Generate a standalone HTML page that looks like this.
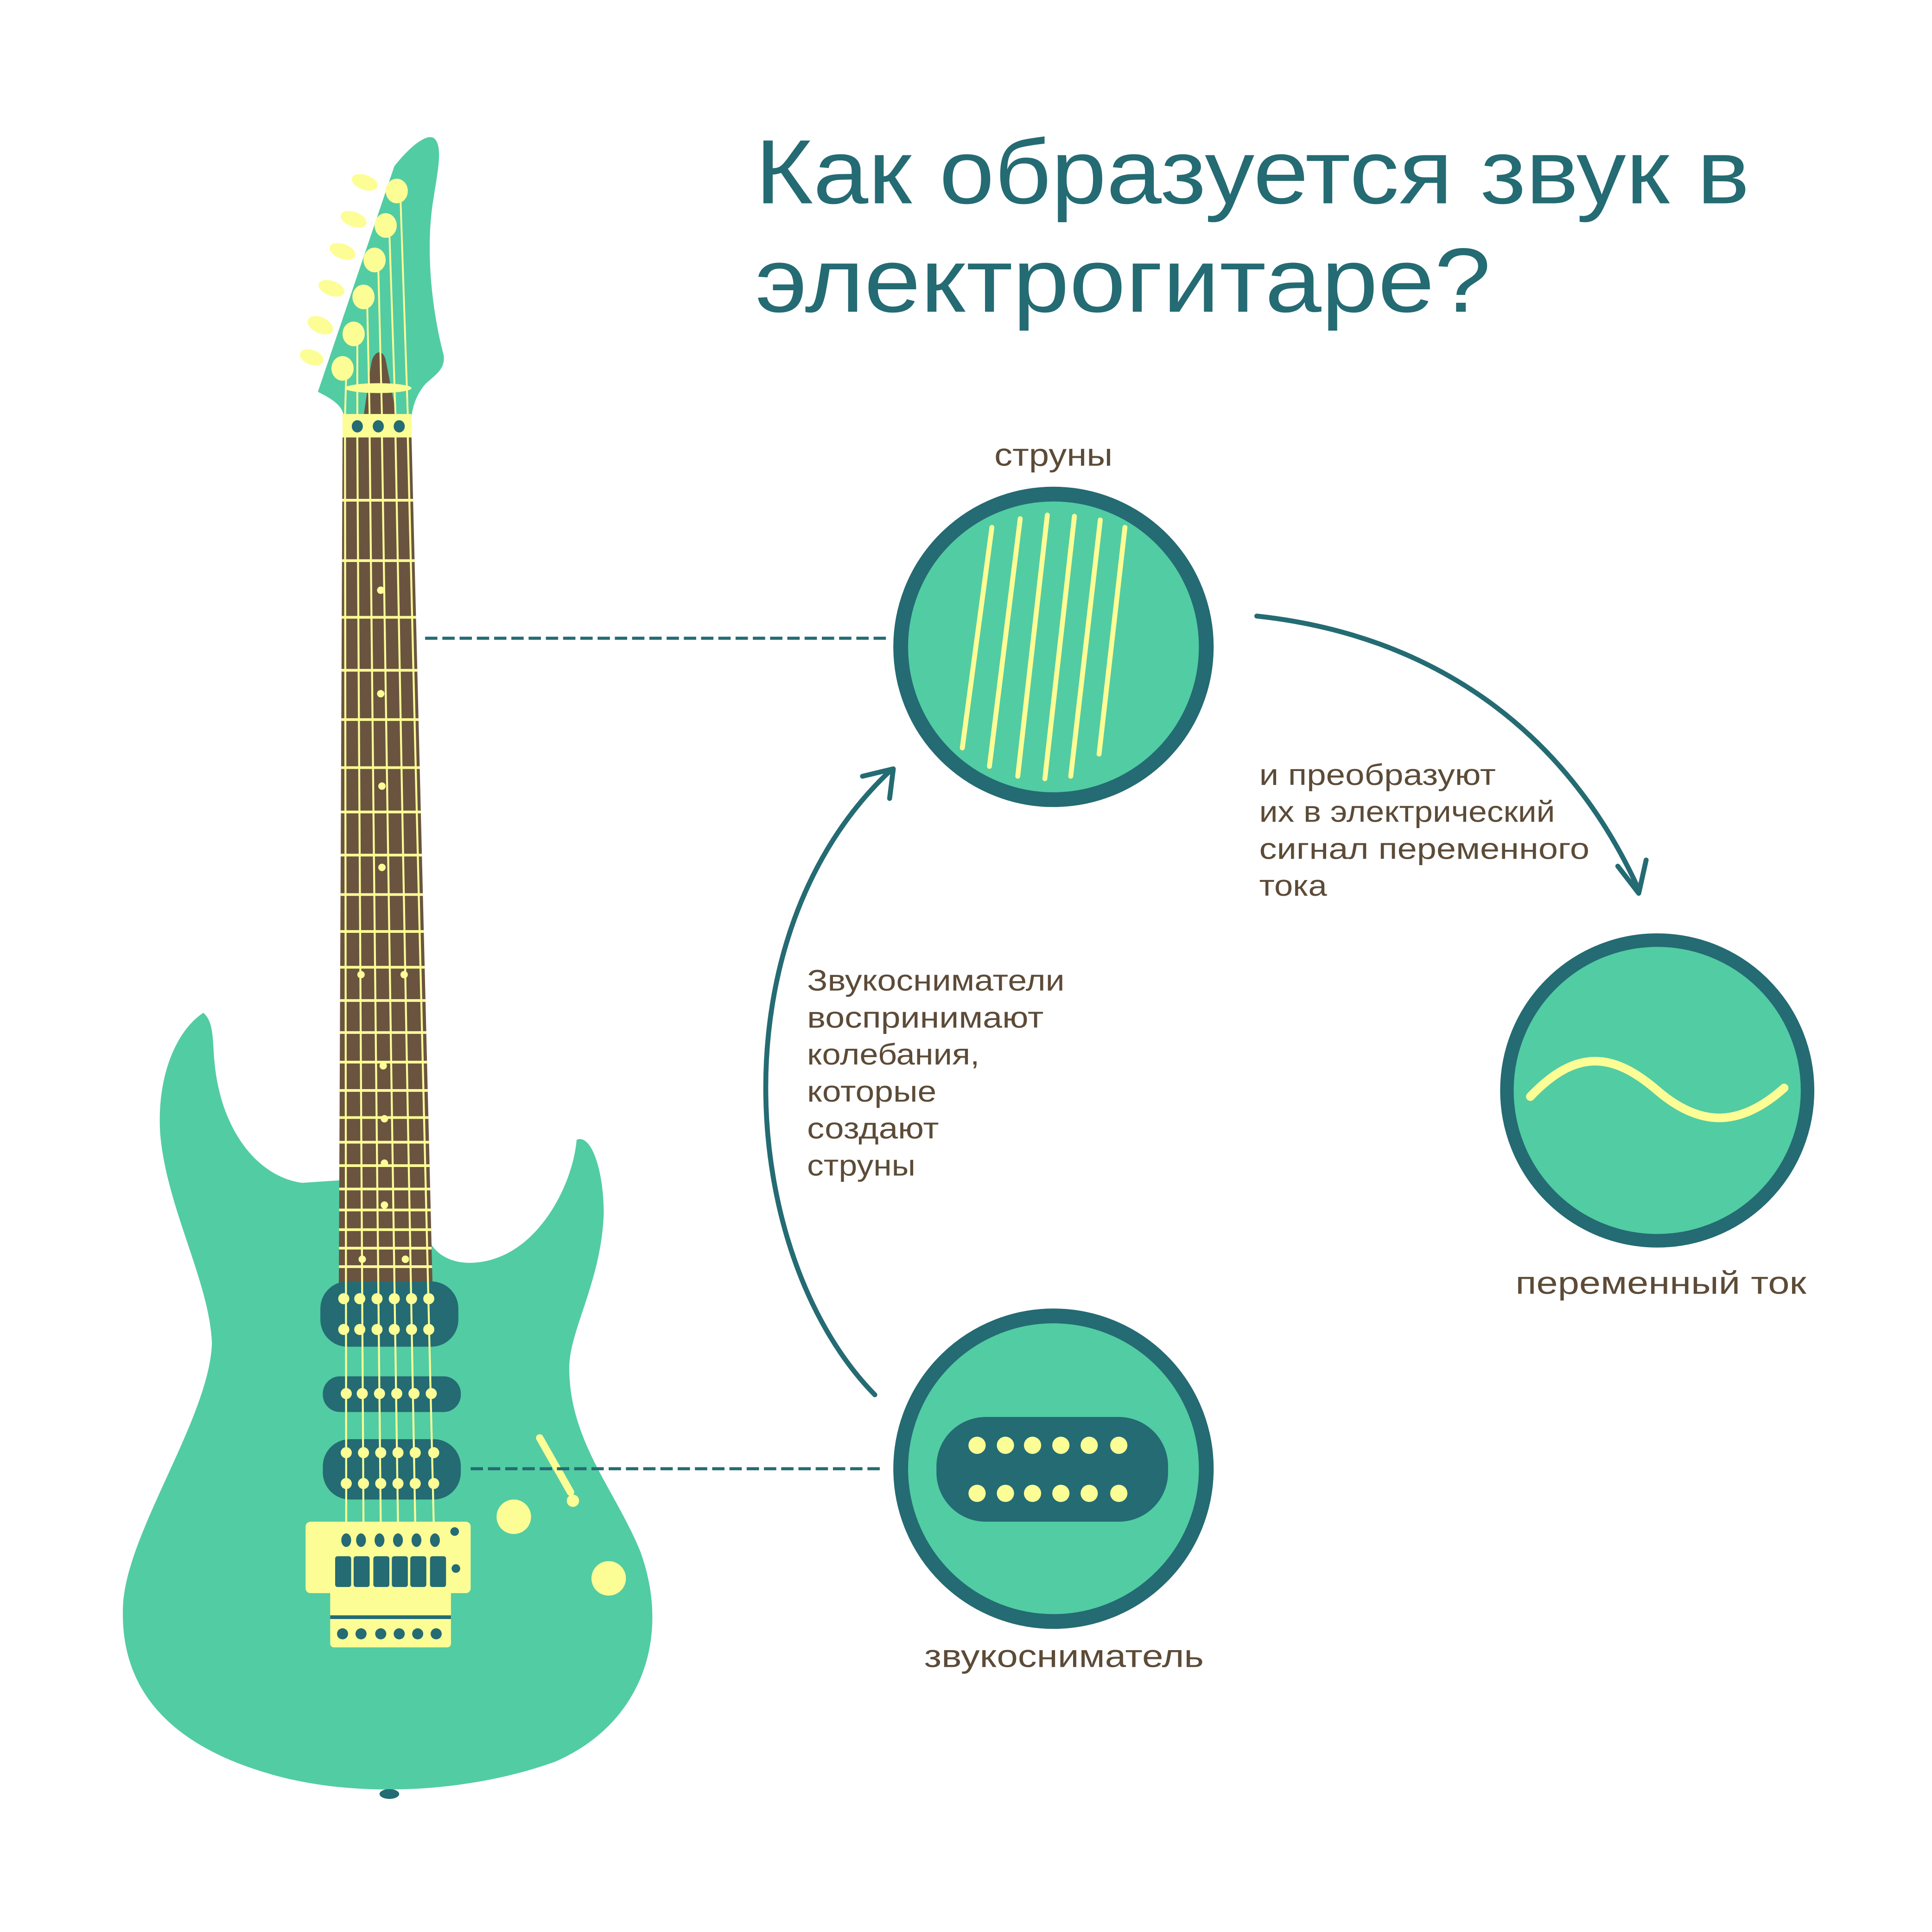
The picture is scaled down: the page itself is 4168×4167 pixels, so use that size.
<!DOCTYPE html>
<html><head><meta charset="utf-8"><style>
html,body{margin:0;padding:0;background:#fff;}
svg{display:block;}
text{font-family:"Liberation Sans","DejaVu Sans",sans-serif;}
</style></head><body>
<svg xmlns="http://www.w3.org/2000/svg" width="4168" height="4167" viewBox="0 0 1568 1568" preserveAspectRatio="none">
<defs>
<clipPath id="neck"><polygon points="278,355 334,355 351,1041 275,1041"/></clipPath>
</defs>
<rect width="1568" height="1568" fill="#fff"/>

<!-- Title -->
<text x="613" y="165" font-size="74" fill="#246b73" textLength="807" lengthAdjust="spacingAndGlyphs">Как образуется звук в</text>
<text x="613" y="253" font-size="74" fill="#246b73" textLength="597" lengthAdjust="spacingAndGlyphs">электрогитаре?</text>

<!-- Body -->
<path fill="#52cca3" d="M165,822 C175,830 172,850 175,870 C182,920 210,955 245,960 L275,958 L350,1010 C360,1025 380,1028 400,1022 C440,1010 465,960 468,925 C480,920 490,950 490,985 C488,1040 462,1080 462,1110 C462,1170 500,1210 520,1260 C545,1330 520,1400 450,1430 C380,1455 290,1460 220,1440 C150,1420 95,1380 100,1300 C105,1240 170,1150 172,1090 C170,1040 135,980 130,920 C127,870 145,835 165,822 Z"/>
<ellipse cx="316" cy="1456" rx="8" ry="4" fill="#246b73"/>

<!-- Headstock -->
<g fill="#fdfd96">
<ellipse cx="296" cy="148" rx="11" ry="6" transform="rotate(20 296 148)"/>
<ellipse cx="287" cy="178" rx="11" ry="6" transform="rotate(20 287 178)"/>
<ellipse cx="278" cy="204" rx="11" ry="6" transform="rotate(20 278 204)"/>
<ellipse cx="269" cy="234" rx="11" ry="6" transform="rotate(20 269 234)"/>
<ellipse cx="260" cy="264" rx="11" ry="6.5" transform="rotate(25 260 264)"/>
<ellipse cx="253" cy="290" rx="10" ry="6" transform="rotate(20 253 290)"/>
</g>
<path fill="#52cca3" d="M258,318 L320,135 C330,122 345,108 352,112 C360,118 355,140 352,160 C345,200 350,250 360,288 C362,300 352,305 345,312 C338,320 335,330 334,338 L279,338 C278,330 272,325 258,318 Z"/>
<path fill="#6a5440" d="M295,338 C298,320 300,300 302,292 C305,284 311,284 313,292 L322,338 Z"/>
<g fill="#fdfd96">
<ellipse cx="322" cy="155" rx="9" ry="10"/>
<ellipse cx="313" cy="183" rx="9" ry="10"/>
<ellipse cx="304" cy="211" rx="9" ry="10"/>
<ellipse cx="295" cy="241" rx="9" ry="10"/>
<ellipse cx="287" cy="271" rx="9" ry="10"/>
<ellipse cx="278" cy="299" rx="9" ry="10"/>
</g>
<g stroke="#fdfd96" stroke-width="1.5">
<line x1="325" y1="160" x2="331" y2="338"/>
<line x1="316" y1="188" x2="321" y2="338"/>
<line x1="307" y1="216" x2="310" y2="338"/>
<line x1="298" y1="246" x2="300" y2="338"/>
<line x1="290" y1="276" x2="290" y2="338"/>
<line x1="281" y1="304" x2="280" y2="338"/>
</g>
<ellipse cx="307" cy="315" rx="27" ry="4" fill="#fdfd96"/>

<!-- Neck -->
<polygon points="278,355 334,355 351,1041 275,1041" fill="#6a5440"/>
<rect x="278" y="336" width="56" height="19" fill="#fdfd96"/>
<g fill="#246b73"><ellipse cx="290" cy="346" rx="4.5" ry="5"/><ellipse cx="307" cy="346" rx="4.5" ry="5"/><ellipse cx="324" cy="346" rx="4.5" ry="5"/></g>
<g clip-path="url(#neck)" stroke="#fdfd96" stroke-width="2.2">
<line x1="270" x2="360" y1="406" y2="406"/><line x1="270" x2="360" y1="455" y2="455"/>
<line x1="270" x2="360" y1="501" y2="501"/><line x1="270" x2="360" y1="544" y2="544"/>
<line x1="270" x2="360" y1="584" y2="584"/><line x1="270" x2="360" y1="623" y2="623"/>
<line x1="270" x2="360" y1="659" y2="659"/><line x1="270" x2="360" y1="694" y2="694"/>
<line x1="270" x2="360" y1="726" y2="726"/><line x1="270" x2="360" y1="756" y2="756"/>
<line x1="270" x2="360" y1="785" y2="785"/><line x1="270" x2="360" y1="812" y2="812"/>
<line x1="270" x2="360" y1="838" y2="838"/><line x1="270" x2="360" y1="862" y2="862"/>
<line x1="270" x2="360" y1="885" y2="885"/><line x1="270" x2="360" y1="907" y2="907"/>
<line x1="270" x2="360" y1="927" y2="927"/><line x1="270" x2="360" y1="946" y2="946"/>
<line x1="270" x2="360" y1="965" y2="965"/><line x1="270" x2="360" y1="982" y2="982"/>
<line x1="270" x2="360" y1="998" y2="998"/><line x1="270" x2="360" y1="1013" y2="1013"/>
<line x1="270" x2="360" y1="1028" y2="1028"/>
</g>
<g fill="#fdfd96">
<circle cx="309" cy="479" r="3"/><circle cx="309" cy="563" r="3"/><circle cx="310" cy="638" r="3"/>
<circle cx="310" cy="704" r="3"/><circle cx="293" cy="791" r="3"/><circle cx="328" cy="791" r="3"/>
<circle cx="311" cy="865" r="3"/><circle cx="312" cy="908" r="3"/><circle cx="312" cy="944" r="3"/>
<circle cx="312" cy="978" r="3"/><circle cx="294" cy="1022" r="3"/><circle cx="329" cy="1022" r="3"/>
</g>

<!-- Pickups -->
<g fill="#246b73">
<rect x="260" y="1040" width="112" height="53" rx="22"/>
<rect x="262" y="1117" width="112" height="29" rx="14"/>
<rect x="262" y="1168" width="112" height="49" rx="22"/>
</g>
<!-- Strings on body -->
<g stroke="#fdfd96" stroke-width="1.6">
<line x1="280" y1="355" x2="281" y2="1236"/>
<line x1="290" y1="355" x2="295" y2="1236"/>
<line x1="300" y1="355" x2="309" y2="1236"/>
<line x1="310" y1="355" x2="323" y2="1236"/>
<line x1="321" y1="355" x2="337" y2="1236"/>
<line x1="331" y1="355" x2="352" y2="1236"/>
</g>
<g fill="#fdfd96">
<circle cx="279" cy="1054" r="4.5"/><circle cx="292" cy="1054" r="4.5"/><circle cx="306" cy="1054" r="4.5"/><circle cx="320" cy="1054" r="4.5"/><circle cx="334" cy="1054" r="4.5"/><circle cx="348" cy="1054" r="4.5"/>
<circle cx="279" cy="1079" r="4.5"/><circle cx="292" cy="1079" r="4.5"/><circle cx="306" cy="1079" r="4.5"/><circle cx="320" cy="1079" r="4.5"/><circle cx="334" cy="1079" r="4.5"/><circle cx="348" cy="1079" r="4.5"/>
<circle cx="281" cy="1131" r="4.5"/><circle cx="294" cy="1131" r="4.5"/><circle cx="308" cy="1131" r="4.5"/><circle cx="322" cy="1131" r="4.5"/><circle cx="336" cy="1131" r="4.5"/><circle cx="350" cy="1131" r="4.5"/>
<circle cx="281" cy="1179" r="4.5"/><circle cx="295" cy="1179" r="4.5"/><circle cx="309" cy="1179" r="4.5"/><circle cx="323" cy="1179" r="4.5"/><circle cx="337" cy="1179" r="4.5"/><circle cx="352" cy="1179" r="4.5"/>
<circle cx="281" cy="1204" r="4.5"/><circle cx="295" cy="1204" r="4.5"/><circle cx="309" cy="1204" r="4.5"/><circle cx="323" cy="1204" r="4.5"/><circle cx="337" cy="1204" r="4.5"/><circle cx="352" cy="1204" r="4.5"/>
</g>

<!-- Bridge -->
<rect x="248" y="1235" width="134" height="58" rx="4" fill="#fdfd96"/>
<rect x="268" y="1285" width="98" height="52" rx="3" fill="#fdfd96"/>
<rect x="268" y="1311" width="98" height="3" fill="#246b73"/>
<g fill="#246b73">
<ellipse cx="281" cy="1250" rx="4" ry="5.5"/><ellipse cx="293" cy="1250" rx="4" ry="5.5"/><ellipse cx="308" cy="1250" rx="4" ry="5.5"/><ellipse cx="323" cy="1250" rx="4" ry="5.5"/><ellipse cx="338" cy="1250" rx="4" ry="5.5"/><ellipse cx="353" cy="1250" rx="4" ry="5.5"/>
<rect x="272" y="1263" width="13" height="25" rx="2"/><rect x="287" y="1263" width="13" height="25" rx="2"/><rect x="303" y="1263" width="13" height="25" rx="2"/><rect x="318" y="1263" width="13" height="25" rx="2"/><rect x="333" y="1263" width="13" height="25" rx="2"/><rect x="349" y="1263" width="13" height="25" rx="2"/>
<circle cx="369" cy="1243" r="3.5"/><circle cx="370" cy="1273" r="3.5"/>
<circle cx="278" cy="1326" r="4.5"/><circle cx="293" cy="1326" r="4.5"/><circle cx="309" cy="1326" r="4.5"/><circle cx="324" cy="1326" r="4.5"/><circle cx="339" cy="1326" r="4.5"/><circle cx="354" cy="1326" r="4.5"/>
</g>
<circle cx="417" cy="1231" r="14" fill="#fdfd96"/>
<circle cx="494" cy="1281" r="14" fill="#fdfd96"/>
<line x1="438" y1="1167" x2="463" y2="1211" stroke="#fdfd96" stroke-width="6" stroke-linecap="round"/>
<circle cx="465" cy="1218" r="5" fill="#fdfd96"/>

<!-- Dashed connectors -->
<g stroke="#246b73" stroke-width="2.5" stroke-dasharray="10,4" fill="none">
<line x1="345" y1="518" x2="720" y2="518"/>
<line x1="382" y1="1192" x2="718" y2="1192"/>
</g>

<!-- Strings circle -->
<circle cx="855" cy="525" r="124" fill="#52cca3" stroke="#246b73" stroke-width="12"/>
<g stroke="#fdfd96" stroke-width="4" stroke-linecap="round">
<line x1="805" y1="428" x2="781" y2="607"/>
<line x1="828" y1="421" x2="803" y2="622"/>
<line x1="850" y1="418" x2="826" y2="630"/>
<line x1="872" y1="419" x2="848" y2="632"/>
<line x1="893" y1="422" x2="869" y2="630"/>
<line x1="913" y1="428" x2="892" y2="612"/>
</g>

<!-- AC circle -->
<circle cx="1345" cy="885" r="122" fill="#52cca3" stroke="#246b73" stroke-width="11"/>
<path d="M1242,890 C1280,850 1310,855 1345,885 C1380,915 1412,915 1448,883" fill="none" stroke="#fdfd96" stroke-width="7" stroke-linecap="round"/>

<!-- Pickup circle -->
<circle cx="855" cy="1192" r="124" fill="#52cca3" stroke="#246b73" stroke-width="12"/>
<rect x="760" y="1150" width="188" height="85" rx="40" fill="#246b73"/>
<g fill="#fdfd96">
<circle cx="793" cy="1173" r="7"/><circle cx="816" cy="1173" r="7"/><circle cx="838" cy="1173" r="7"/><circle cx="861" cy="1173" r="7"/><circle cx="884" cy="1173" r="7"/><circle cx="908" cy="1173" r="7"/>
<circle cx="793" cy="1212" r="7"/><circle cx="816" cy="1212" r="7"/><circle cx="838" cy="1212" r="7"/><circle cx="861" cy="1212" r="7"/><circle cx="884" cy="1212" r="7"/><circle cx="908" cy="1212" r="7"/>
</g>

<!-- Arrows -->
<g stroke="#246b73" stroke-width="4" fill="none" stroke-linecap="round" stroke-linejoin="round">
<path d="M710,1132 C600,1020 580,760 722,626"/>
<polyline points="700,630 725,624 722,648"/>
<path d="M1020,500 C1160,515 1270,590 1330,722"/>
<polyline points="1313,703 1330,725 1336,698"/>
</g>

<!-- Labels -->
<g fill="#5c4b37" font-size="26">
<text x="807" y="378" textLength="96" lengthAdjust="spacingAndGlyphs">струны</text>
<text x="750" y="1353" textLength="227" lengthAdjust="spacingAndGlyphs">звукосниматель</text>
<text x="1230" y="1050" textLength="236" lengthAdjust="spacingAndGlyphs">переменный ток</text>
</g>
<g fill="#5c4b37" font-size="24">
<text x="1022" y="637" textLength="192" lengthAdjust="spacingAndGlyphs">и преобразуют</text>
<text x="1022" y="667" textLength="240" lengthAdjust="spacingAndGlyphs">их в электрический</text>
<text x="1022" y="697" textLength="268" lengthAdjust="spacingAndGlyphs">сигнал переменного</text>
<text x="1022" y="727" textLength="55" lengthAdjust="spacingAndGlyphs">тока</text>
<text x="655" y="804" textLength="209" lengthAdjust="spacingAndGlyphs">Звукосниматели</text>
<text x="655" y="834" textLength="192" lengthAdjust="spacingAndGlyphs">воспринимают</text>
<text x="655" y="864" textLength="140" lengthAdjust="spacingAndGlyphs">колебания,</text>
<text x="655" y="894" textLength="105" lengthAdjust="spacingAndGlyphs">которые</text>
<text x="655" y="924" textLength="107" lengthAdjust="spacingAndGlyphs">создают</text>
<text x="655" y="954" textLength="88" lengthAdjust="spacingAndGlyphs">струны</text>
</g>
</svg>
</body></html>
